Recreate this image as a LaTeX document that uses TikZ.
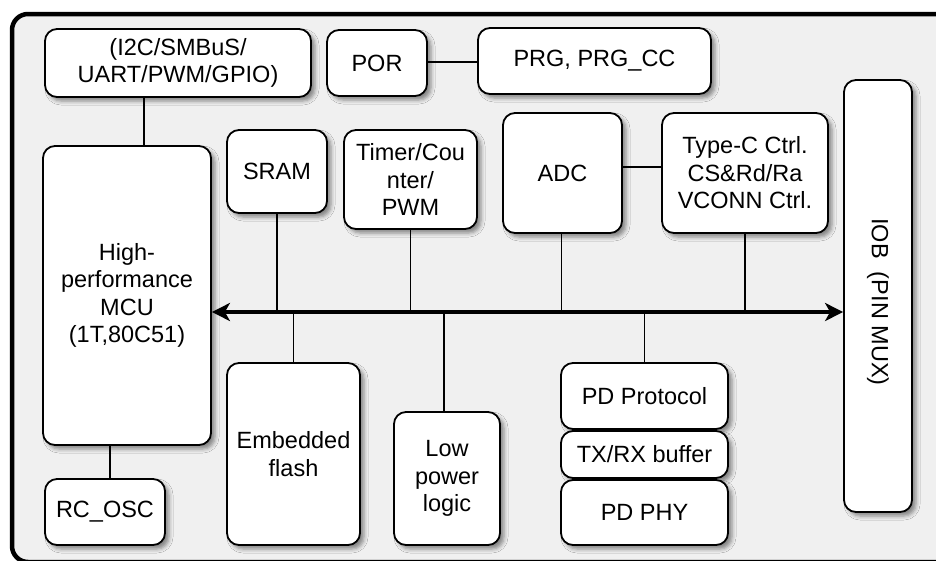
\documentclass[tikz,border=0pt]{standalone}
\usepackage{fontspec}
\setmainfont{Liberation Sans}
\usetikzlibrary{arrows.meta,shadows.blur}
\definecolor{framegray}{HTML}{F0F0F0}
\tikzset{
  blk/.style={draw=black, line width=1.8pt, fill=white, rounded corners=12pt,
    align=center, inner sep=0pt,
    font=\fontsize{23.5}{27.5}\selectfont,
    blur shadow={shadow xshift=4pt, shadow yshift=-4pt, shadow blur radius=4pt, shadow opacity=45}},
  conn/.style={draw=black, line width=1.6pt},
  busline/.style={draw=black, line width=3.6pt, {Stealth[length=18pt,width=18pt,inset=5pt]}-{Stealth[length=18pt,width=18pt,inset=5pt]}},
}
\newcommand{\blkbox}[7]{% name, x1, y1, x2, y2, text
  \node[blk, minimum width={#4-#2}, minimum height={#5-#3}] (#1) at ({(#2+#4)/2},{(#3+#5)/2}) {#6};}
\begin{document}
\begin{tikzpicture}[x=1pt,y=-1pt]
\useasboundingbox (0,0) rectangle (936,560);
\clip (0,0) rectangle (936,560);
\fill[white] (0,0) rectangle (936,560);
\draw[line width=4.5pt, rounded corners=16pt, fill=framegray] (12,14) rectangle (952,562);

\blkbox{io}{45}{29}{311}{97}{(I2C/SMBuS/\\UART/PWM/GPIO)}{}
\blkbox{por}{327}{30}{427}{96}{POR}{}
\blkbox{prg}{478}{28}{711}{94}{PRG, PRG\_CC}{}
\blkbox{mcu}{43}{146}{211}{445}{High-\\performance\\MCU\\(1T,80C51)}{}
\blkbox{rc}{45}{479}{165}{545}{RC\_OSC}{}
\blkbox{sram}{227}{130}{327}{213}{SRAM}{}
\blkbox{tmr}{344}{130}{477}{229}{Timer/Cou\\nter/\\PWM}{}
\blkbox{adc}{503}{113}{622}{233}{ADC}{}
\blkbox{tc}{662}{113}{828}{233}{Type-C Ctrl.\\CS\&Rd/Ra\\VCONN Ctrl.}{}
\blkbox{iob}{844}{80}{912}{512}{}{}
\node[rotate=-90, font=\fontsize{23.5}{27.5}\selectfont] (iobt) at ([yshift=-6pt]iob.center) {IOB\ \ (PIN MUX)};
\blkbox{flash}{227}{363}{360}{545}{Embedded\\flash}{}
\blkbox{lp}{394}{412}{500}{545}{Low\\power\\logic}{}
\blkbox{pdp}{561}{363}{728}{429}{PD Protocol}{}
\blkbox{txrx}{561}{431}{728}{478}{TX/RX buffer}{}
\blkbox{phy}{561}{480}{728}{545}{PD PHY}{}

\coordinate (busy) at (0,312);
\draw[conn] ([xshift=-34pt]io.south) -- ([xshift=17pt]mcu.north);
\draw[conn] ([xshift=5pt]rc.north) -- ([xshift=5pt]rc.north |- mcu.south);
\draw[conn] ([yshift=1pt]por.east) -- ([yshift=1pt]por.east -| prg.west);
\draw[conn] ([yshift=6pt]adc.east) -- ([yshift=6pt]adc.east -| tc.west);
\draw[conn] (sram.south) -- (sram.south |- busy);
\draw[conn] (tmr.south) -- (tmr.south |- busy);
\draw[conn] ([xshift=-1pt]adc.south) -- ([xshift=-1pt]adc.south |- busy);
\draw[conn] (tc.south) -- (tc.south |- busy);
\draw[conn] (flash.north) -- (flash.north |- busy);
\draw[conn] ([xshift=-3pt]lp.north) -- ([xshift=-3pt]lp.north |- busy);
\draw[conn] (pdp.north) -- (pdp.north |- busy);
\draw[busline] (mcu.east |- busy) -- (iob.west |- busy);
\end{tikzpicture}
\end{document}
